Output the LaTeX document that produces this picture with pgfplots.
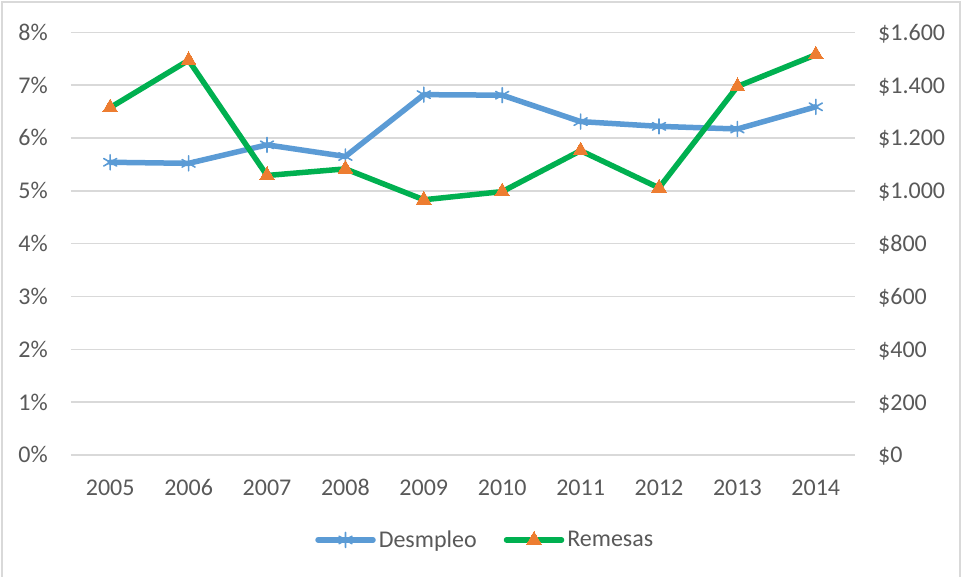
\documentclass[border=0pt]{standalone}
\usepackage{fontspec}
\setmainfont{Carlito}
\usepackage{pgfplots}
\pgfplotsset{compat=1.18}
\definecolor{cblue}{HTML}{5B9BD5}
\definecolor{cgreen}{HTML}{00B050}
\definecolor{corange}{HTML}{ED7D31}
\definecolor{cgrid}{HTML}{D9D9D9}
\definecolor{ctext}{HTML}{595959}
\begin{document}
\begin{tikzpicture}
\pgfplotsset{
 common/.style={
  scale only axis, width=784pt, height=422.7pt,
  xmin=-0.5, xmax=9.5, ymin=0,
  axis line style={draw=none},
  major tick style={draw=none},
  minor tick num=0,
  scaled y ticks=false,
  /pgf/number format/assume math mode=true,
  /pgf/number format/fixed,
  /pgf/number format/precision=0,
  /pgf/number format/1000 sep={.},
  ticklabel style={font=\fontsize{24}{28}\selectfont, text=ctext},
 },
 desstyle/.style={cblue, line width=5.5pt, line cap=round, line join=round, mark=asterisk, mark size=7.5pt, mark options={line width=1.6pt, cblue, solid}},
 remstyle/.style={cgreen, line width=5.5pt, line cap=round, line join=round, mark=triangle*, mark size=8.5pt, mark options={line width=0pt, fill=corange, draw=corange, solid}},
}
\begin{axis}[common,
  ymax=8, ytick={0,1,...,8},
  xtick={0,1,...,9},
  xticklabels={2005,2006,2007,2008,2009,2010,2011,2012,2013,2014},
  ymajorgrids, grid style={cgrid, line width=1.5pt},
  yticklabel={\pgfmathprintnumber{\tick}\%},
  yticklabel style={anchor=base east, inner sep=0pt, xshift=-23pt, yshift=-8pt},
  xticklabel style={anchor=base, inner sep=0pt, yshift=-40.5pt},
  legend columns=2,
  legend style={at={(0.529,-0.201)}, anchor=center, draw=none, fill=none,
    font=\fontsize{24}{28}\selectfont, text=ctext,
    /tikz/every even column/.append style={column sep=24pt},
    inner sep=0pt, nodes={inner sep=3pt}},
  legend image code/.code={\draw[mark repeat=2,mark phase=2,#1] plot coordinates {(0pt,0pt) (27.5pt,0pt) (55pt,0pt)};},
]
\addplot[desstyle] coordinates {(0,5.54) (1,5.52) (2,5.87) (3,5.65) (4,6.82) (5,6.81) (6,6.31) (7,6.22) (8,6.17) (9,6.59)};
\addlegendentry{Desmpleo}
\addlegendimage{remstyle}
\addlegendentry{Remesas}
\coordinate (SW) at (rel axis cs:0,0);
\end{axis}
\begin{axis}[common,
  ymax=1600, ytick={0,200,...,1600},
  xtick=\empty,
  yticklabel pos=right,
  yticklabel={\$\pgfmathprintnumber{\tick}},
  yticklabel style={anchor=base west, inner sep=0pt, xshift=23pt, yshift=-8pt},
]
\addplot[remstyle] coordinates {(0,1315) (1,1494) (2,1058) (3,1083) (4,966) (5,997) (6,1152) (7,1011) (8,1395) (9,1515)};
\end{axis}
\begin{scope}[shift={(SW)}]
\draw[cgrid, line width=1.2pt] (-69pt,-130pt) -- (-69pt,453pt) -- (889pt,453pt) -- (889pt,-130pt);
\pgfresetboundingbox
\path[use as bounding box] (-71pt,-122pt) rectangle (890pt,455pt);
\end{scope}
\end{tikzpicture}
\end{document}
